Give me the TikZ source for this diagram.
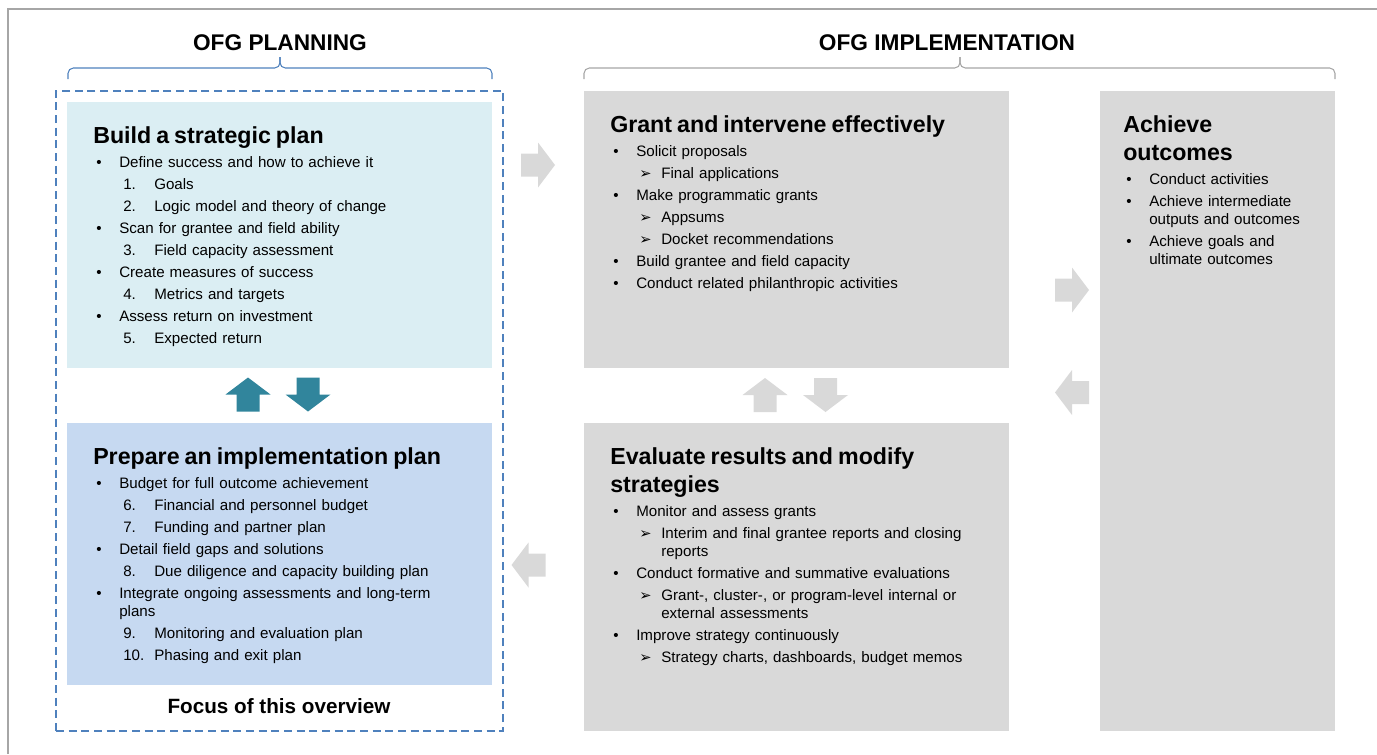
\documentclass[tikz,border=0pt]{standalone}
\usepackage{fontspec}
\setmainfont{Liberation Sans}
\newfontfamily\dingfont{DejaVu Sans}
\usetikzlibrary{fit}

\definecolor{planblue}{HTML}{4F81BD}
\definecolor{paleblue}{HTML}{DBEEF3}
\definecolor{softblue}{HTML}{C6D9F1}
\definecolor{boxgray}{HTML}{D9D9D9}
\definecolor{linegray}{HTML}{A6A6A6}
\definecolor{arrowteal}{HTML}{31859C}

% list helpers for the box texts
\newcommand{\boxhead}[1]{{\fontsize{17.4}{21}\selectfont\bfseries #1\par}\vspace{1.5pt}}
\newcommand{\bpt}[1]{\par\vspace{3pt}\hangindent=19.5pt\hangafter=1\noindent\hbox to 19.5pt{\hspace{2.25pt}\textbullet\hfil}#1}
\newcommand{\npt}[2]{\par\vspace{3pt}\hangindent=45.75pt\hangafter=1\noindent\hbox to 45.75pt{\hspace{22.5pt}#1\hfil}#2}
\newcommand{\apt}[1]{\par\vspace{3pt}\hangindent=38.25pt\hangafter=1\noindent\hbox to 38.25pt{\hspace{21.75pt}{\dingfont\fontsize{11}{11}\selectfont ➢}\hfil}#1}

\tikzset{blockarrow/.pic={
  \fill (-17,-11.5) -- (0,-11.5) -- (0,-22.5) -- (17,0) -- (0,22.5) -- (0,11.5) -- (-17,11.5) -- cycle;}}

\begin{document}
\begin{tikzpicture}[x=0.75pt, y=-0.75pt,
		stage_box/.style={inner sep=0pt, draw=none},
		stage_text/.style={anchor=north west, inner sep=0pt, align=left,
			font=\fontsize{11.35}{13.5}\selectfont},
		head_style/.style={font=\fontsize{17}{20}\selectfont\bfseries, inner sep=0pt},
		bracket_style/.style={line width=0.8pt, rounded corners=4pt}]

		\useasboundingbox (0,0) rectangle (1377,754);

		% outer frame
		\draw[linegray, line width=1.5pt] (8,754) -- (8,9) -- (1377,9);

		% stage boxes
		\node[stage_box, fill=paleblue, fit={(67,102) (492,368)}] (build) {};
		\node[stage_box, fill=softblue, fit={(67,423) (492,685)}] (prepare) {};
		\node[stage_box, fill=boxgray, fit={(584,91) (1009,368)}] (grant) {};
		\node[stage_box, fill=boxgray, fit={(584,423) (1009,731)}] (evaluate) {};
		\node[stage_box, fill=boxgray, fit={(1100,91) (1335,731)}] (achieve) {};
		\node[stage_box, draw=planblue, line width=1.1pt, dash pattern=on 6pt off 3.5pt,
			fit={(56,91) (503,731)}] (focus) {};

		% headings and brackets
		\node[head_style] (planhead) at (280,43) {OFG PLANNING};
		\node[head_style] (implhead) at (947,43) {OFG IMPLEMENTATION};
		\draw[bracket_style, planblue] (68,79) -- (68,68) -- (280,68) -- (280,57);
		\draw[bracket_style, planblue] (280,57) -- (280,68) -- (492,68) -- (492,79);
		\draw[bracket_style, linegray] (584,79) -- (584,68) -- (960,68) -- (960,57);
		\draw[bracket_style, linegray] (960,57) -- (960,68) -- (1335,68) -- (1335,79);

		\node[font=\fontsize{15.5}{18}\selectfont\bfseries, inner sep=0pt] (focuslabel) at (279,706) {Focus of this overview};

		% box texts
		\node[stage_text, text width=290pt] (buildtxt) at (93,126.5) {%
			\boxhead{Build a strategic plan}%
			\bpt{Define success and how to achieve it}
			\npt{1.}{Goals}
			\npt{2.}{Logic model and theory of change}
			\bpt{Scan for grantee and field ability}
			\npt{3.}{Field capacity assessment}
			\bpt{Create measures of success}
			\npt{4.}{Metrics and targets}
			\bpt{Assess return on investment}
			\npt{5.}{Expected return}\par};

		\node[stage_text, text width=290pt] (preparetxt) at (93,447) {%
			\boxhead{Prepare an implementation plan}%
			\bpt{Budget for full outcome achievement}
			\npt{6.}{Financial and personnel budget}
			\npt{7.}{Funding and partner plan}
			\bpt{Detail field gaps and solutions}
			\npt{8.}{Due diligence and capacity building plan}
			\bpt{Integrate ongoing assessments and long-term\newline plans}
			\npt{9.}{Monitoring and evaluation plan}
			\npt{10.}{Phasing and exit plan}\par};

		\node[stage_text, text width=290pt] (granttxt) at (610,115.5) {%
			\boxhead{Grant and intervene effectively}%
			\bpt{Solicit proposals}
			\apt{Final applications}
			\bpt{Make programmatic grants}
			\apt{Appsums}
			\apt{Docket recommendations}
			\bpt{Build grantee and field capacity}
			\bpt{Conduct related philanthropic activities}\par};

		\node[stage_text, text width=290pt] (evaluatetxt) at (610,447) {%
			\boxhead{Evaluate results and modify\newline strategies}%
			\bpt{Monitor and assess grants}
			\apt{Interim and final grantee reports and closing\newline reports}
			\bpt{Conduct formative and summative evaluations}
			\apt{Grant-, cluster-, or program-level internal or\newline external assessments}
			\bpt{Improve strategy continuously}
			\apt{Strategy charts, dashboards, budget memos}\par};

		\node[stage_text, text width=160pt] (achievetxt) at (1123,115.5) {%
			\boxhead{Achieve\newline outcomes}%
			\bpt{Conduct activities}
			\bpt{Achieve intermediate\newline outputs and outcomes}
			\bpt{Achieve goals and\newline ultimate outcomes}\par};

		% block arrows between the stages
		\pic[fill=arrowteal, rotate=90] at (248,394.5) {blockarrow};
		\pic[fill=arrowteal, rotate=-90] at (308,394.5) {blockarrow};
		\pic[fill=boxgray, rotate=90] at (765,395) {blockarrow};
		\pic[fill=boxgray, rotate=-90] at (825.5,395) {blockarrow};
		\pic[fill=boxgray] at (538,165) {blockarrow};
		\pic[fill=boxgray] at (1072,290) {blockarrow};
		\pic[fill=boxgray, rotate=180] at (1072,392.5) {blockarrow};
		\pic[fill=boxgray, rotate=180] at (528.5,565) {blockarrow};

\end{tikzpicture}
\end{document}
